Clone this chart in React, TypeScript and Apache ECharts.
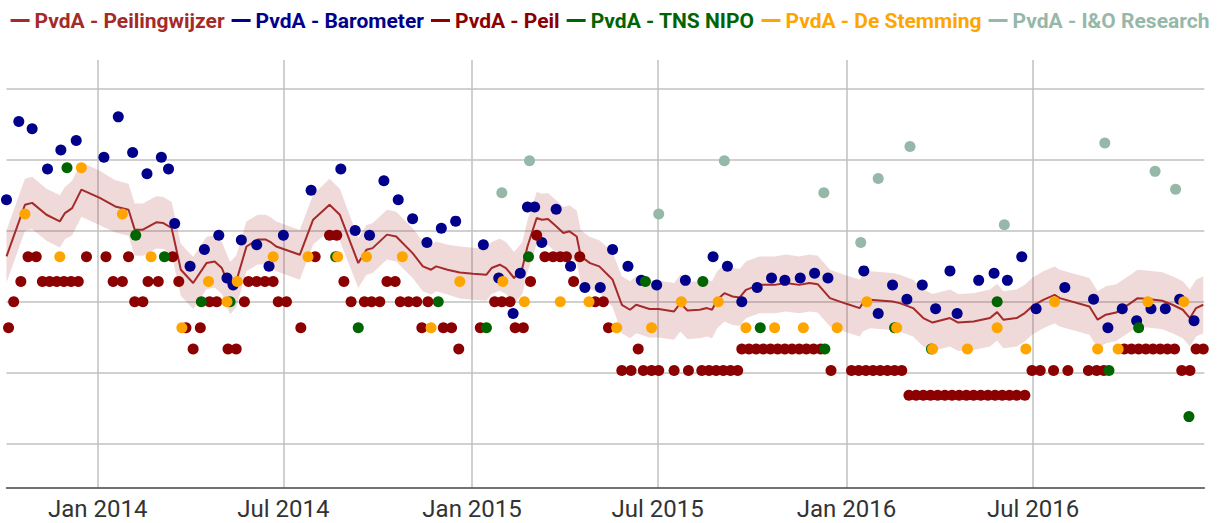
import React, { useEffect, useRef } from 'react';
import * as echarts from 'echarts';

// ---- axis ticks ----
const tickDates = ['2014-01-01', '2014-07-01', '2015-01-01', '2015-07-01', '2016-01-01', '2016-07-01'];
const axisStart = '2013-10-04';
const axisEnd = '2016-12-15';
const gridValues = [6, 9, 12, 15, 18, 21];
const monthNames = ['Jan', 'Feb', 'Mar', 'Apr', 'May', 'Jun', 'Jul', 'Aug', 'Sep', 'Oct', 'Nov', 'Dec'];

const seriesNames = [
  'PvdA - Peilingwijzer',
  'PvdA - Barometer',
  'PvdA - Peil',
  'PvdA - TNS NIPO',
  'PvdA - De Stemming',
  'PvdA - I&O Research',
];
const seriesColors = ['#a52a2a', '#00008b', '#8b0000', '#006400', '#ffa500', '#96b8a8'];

// ---- Peilingwijzer (trend line + uncertainty band) ----
const pwDates = [
  '2013-10-04', '2013-10-22', '2013-10-29', '2013-11-12', '2013-11-25', '2013-11-30', '2013-12-07', '2013-12-16',
  '2014-01-03', '2014-01-18', '2014-01-31', '2014-02-06', '2014-02-14', '2014-02-27', '2014-03-06', '2014-03-14',
  '2014-03-23', '2014-04-04', '2014-04-17', '2014-04-25', '2014-05-02', '2014-05-10', '2014-05-16', '2014-05-26',
  '2014-06-06', '2014-06-14', '2014-06-19', '2014-06-24', '2014-07-17', '2014-07-30', '2014-08-15', '2014-08-25',
  '2014-09-12', '2014-09-20', '2014-09-26', '2014-10-10', '2014-10-19', '2014-11-04', '2014-11-14', '2014-11-22',
  '2014-11-27', '2014-12-08', '2014-12-20', '2015-01-02', '2015-01-15', '2015-01-20', '2015-01-28', '2015-02-03',
  '2015-02-11', '2015-02-19', '2015-02-24', '2015-03-05', '2015-03-10', '2015-03-16', '2015-03-24', '2015-03-31',
  '2015-04-06', '2015-04-13', '2015-04-17', '2015-04-26', '2015-05-05', '2015-05-15', '2015-05-18', '2015-05-27',
  '2015-06-04', '2015-06-10', '2015-06-23', '2015-07-02', '2015-07-17', '2015-07-23', '2015-07-30', '2015-08-11',
  '2015-08-18', '2015-08-23', '2015-08-28', '2015-09-04', '2015-09-12', '2015-09-19', '2015-09-25', '2015-10-08',
  '2015-10-23', '2015-11-03', '2015-11-16', '2015-11-26', '2015-12-04', '2015-12-16', '2016-01-01', '2016-01-14',
  '2016-01-17', '2016-01-24', '2016-02-15', '2016-02-22', '2016-03-06', '2016-03-16', '2016-03-25', '2016-04-11',
  '2016-04-19', '2016-05-04', '2016-05-20', '2016-05-27', '2016-06-02', '2016-06-15', '2016-06-23', '2016-06-30',
  '2016-07-11', '2016-07-22', '2016-07-27', '2016-08-25', '2016-09-02', '2016-09-10', '2016-09-20', '2016-10-03',
  '2016-10-11', '2016-10-19', '2016-11-04', '2016-11-14', '2016-11-24', '2016-12-01', '2016-12-07', '2016-12-14',
];
const pwMid = [
  13.91, 16.09, 16.17, 15.67, 15.39, 15.74, 15.95, 16.73,
  16.38, 16.02, 15.88, 15.04, 15.04, 15.35, 15.32, 15.11,
  13.35, 12.79, 13.63, 13.70, 13.42, 12.57, 12.85, 14.33,
  14.62, 14.62, 14.50, 14.33, 13.98, 15.46, 16.09, 15.67,
  13.63, 14.19, 14.26, 14.83, 14.75, 14.05, 13.49, 13.35,
  13.49, 13.35, 13.23, 13.18, 13.14, 13.42, 13.56, 13.42,
  13.00, 13.42, 14.33, 15.53, 15.46, 15.49, 15.18, 14.90,
  14.97, 14.75, 13.91, 13.63, 13.49, 13.06, 12.93, 11.87,
  11.66, 11.87, 11.69, 11.69, 11.59, 11.94, 11.63, 11.66,
  11.73, 11.66, 12.08, 12.36, 12.22, 12.18, 12.50, 12.71,
  12.71, 12.79, 12.71, 12.79, 12.74, 12.15, 11.91, 11.73,
  11.94, 12.08, 12.01, 11.94, 11.73, 11.31, 11.12, 11.31,
  11.12, 11.16, 11.31, 11.56, 11.24, 11.31, 11.52, 11.80,
  12.08, 12.29, 12.15, 11.80, 11.24, 11.45, 11.54, 11.91,
  12.15, 12.12, 12.04, 11.87, 11.66, 11.31, 11.73, 11.87,
];
const pwMargin = [
  1.10, 1.10, 1.10, 1.10, 1.10, 1.10, 1.15, 1.15,
  1.15, 1.10, 1.10, 1.10, 1.10, 1.10, 1.10, 1.10,
  1.10, 1.10, 1.10, 1.10, 1.10, 1.10, 1.10, 1.05,
  1.05, 1.05, 1.05, 1.05, 1.05, 1.05, 1.10, 1.10,
  1.05, 1.05, 1.05, 1.05, 1.05, 1.05, 1.05, 1.05,
  1.05, 1.05, 1.10, 1.10, 1.10, 1.10, 1.10, 1.10,
  1.10, 1.10, 1.10, 1.10, 1.10, 1.10, 1.10, 1.10,
  1.10, 1.10, 1.10, 1.10, 1.10, 1.15, 1.15, 1.20,
  1.20, 1.20, 1.20, 1.20, 1.20, 1.20, 1.20, 1.20,
  1.20, 1.20, 1.20, 1.20, 1.20, 1.20, 1.20, 1.20,
  1.20, 1.20, 1.20, 1.20, 1.20, 1.20, 1.20, 1.20,
  1.20, 1.20, 1.20, 1.20, 1.20, 1.20, 1.20, 1.20,
  1.20, 1.20, 1.20, 1.20, 1.20, 1.20, 1.20, 1.20,
  1.20, 1.20, 1.20, 1.20, 1.20, 1.20, 1.20, 1.20,
  1.20, 1.20, 1.20, 1.20, 1.20, 1.20, 1.20, 1.20,
];

// ---- Politieke Barometer ----
const barometer: [string, number][] = [
  ['2013-10-04', 16.3], ['2013-10-16', 19.6], ['2013-10-29', 19.3], ['2013-11-13', 17.6], ['2013-11-26', 18.4],
  ['2013-12-11', 18.8], ['2014-01-07', 18.1], ['2014-01-21', 19.8], ['2014-02-04', 18.3], ['2014-02-18', 17.4],
  ['2014-03-04', 18.1], ['2014-03-11', 17.6], ['2014-03-17', 15.3], ['2014-04-01', 13.5], ['2014-04-15', 14.2],
  ['2014-04-29', 14.8], ['2014-05-07', 13.0], ['2014-05-13', 12.7], ['2014-05-21', 14.6], ['2014-06-05', 14.4],
  ['2014-06-17', 13.5], ['2014-07-01', 14.8], ['2014-07-28', 16.7], ['2014-08-26', 17.6], ['2014-09-09', 15.0],
  ['2014-09-23', 14.8], ['2014-10-07', 17.1], ['2014-10-21', 16.3], ['2014-11-04', 15.5], ['2014-11-18', 14.5],
  ['2014-12-02', 15.1], ['2014-12-16', 15.4], ['2015-01-12', 14.4], ['2015-01-27', 13.0], ['2015-02-10', 11.5],
  ['2015-02-17', 13.2], ['2015-02-24', 16.0], ['2015-03-03', 16.0], ['2015-03-10', 14.5], ['2015-03-24', 15.9],
  ['2015-04-07', 13.5], ['2015-04-21', 12.6], ['2015-05-06', 12.6], ['2015-05-18', 14.2], ['2015-06-02', 13.5],
  ['2015-06-15', 12.9], ['2015-06-30', 12.7], ['2015-07-28', 12.9], ['2015-08-24', 13.9], ['2015-09-07', 13.5],
  ['2015-09-21', 12.0], ['2015-10-06', 12.6], ['2015-10-20', 13.0], ['2015-11-02', 12.9], ['2015-11-17', 13.0],
  ['2015-12-01', 13.2], ['2015-12-14', 13.0], ['2016-01-18', 13.3], ['2016-02-01', 11.5], ['2016-02-15', 12.7],
  ['2016-02-29', 12.1], ['2016-03-15', 12.7], ['2016-03-28', 11.7], ['2016-04-11', 13.3], ['2016-04-18', 11.5],
  ['2016-05-09', 12.9], ['2016-05-24', 13.2], ['2016-06-06', 12.9], ['2016-06-20', 13.9], ['2016-07-04', 11.7],
  ['2016-08-01', 12.6], ['2016-08-29', 12.1], ['2016-09-12', 10.9], ['2016-09-26', 11.7], ['2016-10-10', 11.2],
  ['2016-10-24', 11.7], ['2016-11-07', 11.7], ['2016-11-21', 12.1], ['2016-12-05', 11.2],
];

// ---- Peil (Maurice de Hond) ----
const peil: [string, number][] = [
  ['2013-10-06', 10.9], ['2013-10-11', 12.0], ['2013-10-18', 12.85], ['2013-10-25', 13.9], ['2013-11-02', 13.9],
  ['2013-11-08', 12.85], ['2013-11-15', 12.85], ['2013-11-22', 12.85], ['2013-11-29', 12.85], ['2013-12-06', 12.85],
  ['2013-12-13', 12.85], ['2013-12-21', 13.9], ['2014-01-09', 13.9], ['2014-01-16', 12.85], ['2014-01-25', 12.85],
  ['2014-01-31', 13.9], ['2014-02-06', 12.0], ['2014-02-14', 12.0], ['2014-02-19', 12.85], ['2014-03-01', 12.85],
  ['2014-03-15', 13.9], ['2014-03-21', 12.85], ['2014-03-28', 10.9], ['2014-04-04', 10.0], ['2014-04-11', 10.9],
  ['2014-04-20', 12.0], ['2014-04-27', 12.0], ['2014-05-08', 10.0], ['2014-05-16', 10.0], ['2014-05-24', 12.0],
  ['2014-05-28', 12.85], ['2014-06-05', 12.85], ['2014-06-13', 12.85], ['2014-06-21', 12.85], ['2014-06-26', 12.0],
  ['2014-07-04', 12.0], ['2014-07-18', 10.9], ['2014-08-01', 13.9], ['2014-08-15', 14.8], ['2014-08-22', 14.8],
  ['2014-08-29', 12.85], ['2014-09-05', 12.0], ['2014-09-18', 12.0], ['2014-09-25', 12.0], ['2014-10-03', 12.0],
  ['2014-10-10', 12.85], ['2014-10-18', 12.85], ['2014-10-23', 12.0], ['2014-10-31', 12.0], ['2014-11-08', 12.0],
  ['2014-11-13', 10.9], ['2014-11-19', 12.0], ['2014-12-04', 10.9], ['2014-12-12', 10.9], ['2014-12-19', 10.0],
  ['2015-01-09', 10.9], ['2015-01-23', 12.0], ['2015-01-30', 12.0], ['2015-02-07', 12.0], ['2015-02-12', 10.9],
  ['2015-02-20', 10.9], ['2015-02-27', 12.85], ['2015-03-05', 14.8], ['2015-03-13', 13.9], ['2015-03-21', 13.9],
  ['2015-03-28', 13.9], ['2015-04-03', 13.9], ['2015-04-10', 12.85], ['2015-04-16', 13.9], ['2015-05-01', 12.0],
  ['2015-05-09', 12.0], ['2015-05-14', 10.9], ['2015-05-27', 9.1], ['2015-06-05', 9.1], ['2015-06-12', 10.0],
  ['2015-06-17', 9.1], ['2015-06-25', 9.1], ['2015-07-02', 9.1], ['2015-07-17', 9.1], ['2015-07-31', 9.1],
  ['2015-08-13', 9.1], ['2015-08-20', 9.1], ['2015-08-27', 9.1], ['2015-09-03', 9.1], ['2015-09-10', 9.1],
  ['2015-09-17', 9.1], ['2015-09-21', 10.0], ['2015-09-28', 10.0], ['2015-10-05', 10.0], ['2015-10-12', 10.0],
  ['2015-10-19', 10.0], ['2015-10-26', 10.0], ['2015-11-02', 10.0], ['2015-11-09', 10.0], ['2015-11-16', 10.0],
  ['2015-11-23', 10.0], ['2015-11-30', 10.0], ['2015-12-07', 10.0], ['2015-12-17', 9.1], ['2016-01-06', 9.1],
  ['2016-01-13', 9.1], ['2016-01-20', 9.1], ['2016-01-27', 9.1], ['2016-02-03', 9.1], ['2016-02-10', 9.1],
  ['2016-02-17', 9.1], ['2016-02-24', 9.1], ['2016-03-02', 8.05], ['2016-03-09', 8.05], ['2016-03-16', 8.05],
  ['2016-03-23', 8.05], ['2016-03-30', 8.05], ['2016-04-06', 8.05], ['2016-04-13', 8.05], ['2016-04-20', 8.05],
  ['2016-04-27', 8.05], ['2016-05-04', 8.05], ['2016-05-11', 8.05], ['2016-05-18', 8.05], ['2016-05-25', 8.05],
  ['2016-06-01', 8.05], ['2016-06-08', 8.05], ['2016-06-15', 8.05], ['2016-06-23', 8.05], ['2016-06-30', 9.1],
  ['2016-07-08', 9.1], ['2016-07-21', 9.1], ['2016-08-04', 9.1], ['2016-08-24', 9.1], ['2016-09-01', 9.1],
  ['2016-09-08', 9.1], ['2016-09-28', 10.0], ['2016-10-05', 10.0], ['2016-10-12', 10.0], ['2016-10-19', 10.0],
  ['2016-10-26', 10.0], ['2016-11-02', 10.0], ['2016-11-09', 10.0], ['2016-11-16', 10.0], ['2016-11-23', 9.1],
  ['2016-12-01', 9.1], ['2016-12-07', 10.0], ['2016-12-14', 10.0],
];

// ---- TNS NIPO ----
const tnsNipo: [string, number][] = [
  ['2013-12-02', 17.65], ['2014-02-07', 14.8], ['2014-03-07', 13.9], ['2014-04-12', 12.0], ['2014-05-10', 12.0],
  ['2014-08-21', 13.9], ['2014-09-12', 10.9], ['2014-11-29', 12.0], ['2015-01-15', 10.9], ['2015-02-25', 13.9],
  ['2015-06-19', 12.85], ['2015-08-14', 12.85], ['2015-10-09', 10.9], ['2015-12-11', 10.0], ['2016-02-17', 10.9],
  ['2016-03-24', 10.0], ['2016-05-27', 12.0], ['2016-09-13', 9.1], ['2016-10-12', 10.9], ['2016-11-30', 7.15],
];

// ---- De Stemming ----
const deStemming: [string, number][] = [
  ['2013-10-22', 15.7], ['2013-11-25', 13.9], ['2013-12-16', 17.65], ['2014-01-25', 15.7], ['2014-02-22', 13.9],
  ['2014-03-24', 10.9], ['2014-04-19', 12.85], ['2014-05-07', 12.0], ['2014-05-17', 12.85], ['2014-06-21', 13.9],
  ['2014-07-25', 13.9], ['2014-08-23', 13.9], ['2014-09-20', 13.9], ['2014-10-25', 13.9], ['2014-11-22', 10.9],
  ['2014-12-20', 12.85], ['2015-01-31', 12.85], ['2015-02-21', 12.0], ['2015-03-28', 12.0], ['2015-04-25', 12.0],
  ['2015-05-22', 10.9], ['2015-06-25', 10.9], ['2015-07-24', 12.0], ['2015-08-29', 12.0], ['2015-09-25', 10.9],
  ['2015-10-23', 10.9], ['2015-11-20', 10.9], ['2015-12-23', 10.9], ['2016-01-21', 12.0], ['2016-02-19', 10.9],
  ['2016-03-25', 10.0], ['2016-04-28', 10.0], ['2016-05-27', 10.9], ['2016-06-24', 10.0], ['2016-07-22', 12.0],
  ['2016-09-02', 10.0], ['2016-09-22', 10.0], ['2016-10-21', 12.0], ['2016-11-25', 12.0],
];

// ---- I&O Research ----
const ioResearch: [string, number][] = [
  ['2015-01-30', 16.6], ['2015-02-26', 17.95], ['2015-07-02', 15.7], ['2015-09-04', 17.95], ['2015-12-10', 16.6],
  ['2016-01-15', 14.5], ['2016-02-01', 17.2], ['2016-03-03', 18.55], ['2016-06-03', 15.25], ['2016-09-09', 18.7],
  ['2016-10-28', 17.5], ['2016-11-17', 16.75],
];

const FONT = 'Roboto';

const ts = (s: string) => {
  const [y, m, d] = s.split('-').map(Number);
  return Date.UTC(y, m - 1, d);
};
const toPoints = (arr: [string, number][]) => arr.map(([d, v]) => [ts(d), v]);

export default function App() {
  const ref = useRef<HTMLDivElement>(null);

  useEffect(() => {
    document.body.style.margin = '0';
    if (!ref.current) return;
    const chart = echarts.init(ref.current, null, { renderer: 'svg' });

    const scatter = (idx: number, data: [string, number][], z: number) => ({
      name: seriesNames[idx],
      type: 'scatter',
      data: toPoints(data),
      symbol: 'circle',
      symbolSize: 11,
      itemStyle: { color: seriesColors[idx], opacity: 1 },
      z,
      silent: true,
    });

    const tickTs = tickDates.map(ts);
    const bandData = pwDates.map((d, i) => [ts(d), pwMid[i] - pwMargin[i], pwMid[i] + pwMargin[i]]);

    const option: any = {
      animation: false,
      textStyle: { fontFamily: FONT },
      legend: {
        data: seriesNames.map((n, i) => ({ name: n, textStyle: { color: seriesColors[i] } })),
        icon: 'rect',
        itemWidth: 19,
        itemHeight: 3,
        itemGap: 7,
        top: 10,
        left: 'center',
        padding: 0,
        selectedMode: false,
        textStyle: { fontSize: 21, fontWeight: 'bold', fontFamily: FONT },
      },
      grid: { left: 6.5, right: 15.7, top: 60, bottom: 35.3, containLabel: false },
      xAxis: {
        type: 'value',
        min: ts(axisStart),
        max: ts(axisEnd),
        axisLine: { show: true, lineStyle: { color: '#444', width: 1.5 } },
        axisTick: { show: false, customValues: tickTs },
        axisLabel: {
          customValues: tickTs,
          fontSize: 24,
          color: '#333',
          margin: 9,
          fontFamily: FONT,
          formatter: (val: number) => {
            const d = new Date(val);
            return monthNames[d.getUTCMonth()] + ' ' + d.getUTCFullYear();
          },
        },
        splitLine: { show: true, lineStyle: { color: '#c0c0c0', width: 1.5 } },
      },
      yAxis: {
        type: 'value',
        min: 4.15,
        max: 22.2,
        axisLine: { show: false },
        axisTick: { show: false, customValues: gridValues },
        axisLabel: { show: false, customValues: gridValues },
        splitLine: { show: true, lineStyle: { color: '#c0c0c0', width: 1.5 } },
      },
      series: [
        {
          name: 'pwBand',
          type: 'custom',
          data: bandData,
          encode: { x: 0, y: [1, 2] },
          silent: true,
          z: 1,
          renderItem: (params: any, api: any) => {
            if (params.dataIndex !== 0) return null;
            const upper = bandData.map((p) => api.coord([p[0], p[2]]));
            const lower = bandData.map((p) => api.coord([p[0], p[1]])).reverse();
            return {
              type: 'polygon',
              shape: { points: upper.concat(lower) },
              style: { fill: 'rgba(165, 42, 42, 0.18)' },
            };
          },
        },
        {
          name: seriesNames[0],
          type: 'line',
          data: pwDates.map((d, i) => [ts(d), pwMid[i]]),
          symbol: 'none',
          lineStyle: { color: seriesColors[0], width: 2 },
          itemStyle: { color: seriesColors[0] },
          silent: true,
          z: 2,
        },
        scatter(1, barometer, 3),
        scatter(2, peil, 4),
        scatter(3, tnsNipo, 5),
        scatter(4, deStemming, 6),
        scatter(5, ioResearch, 7),
      ],
    };

    chart.setOption(option);
    return () => chart.dispose();
  }, []);

  return <div ref={ref} style={{ width: 1220, height: 523 }} />;
}
